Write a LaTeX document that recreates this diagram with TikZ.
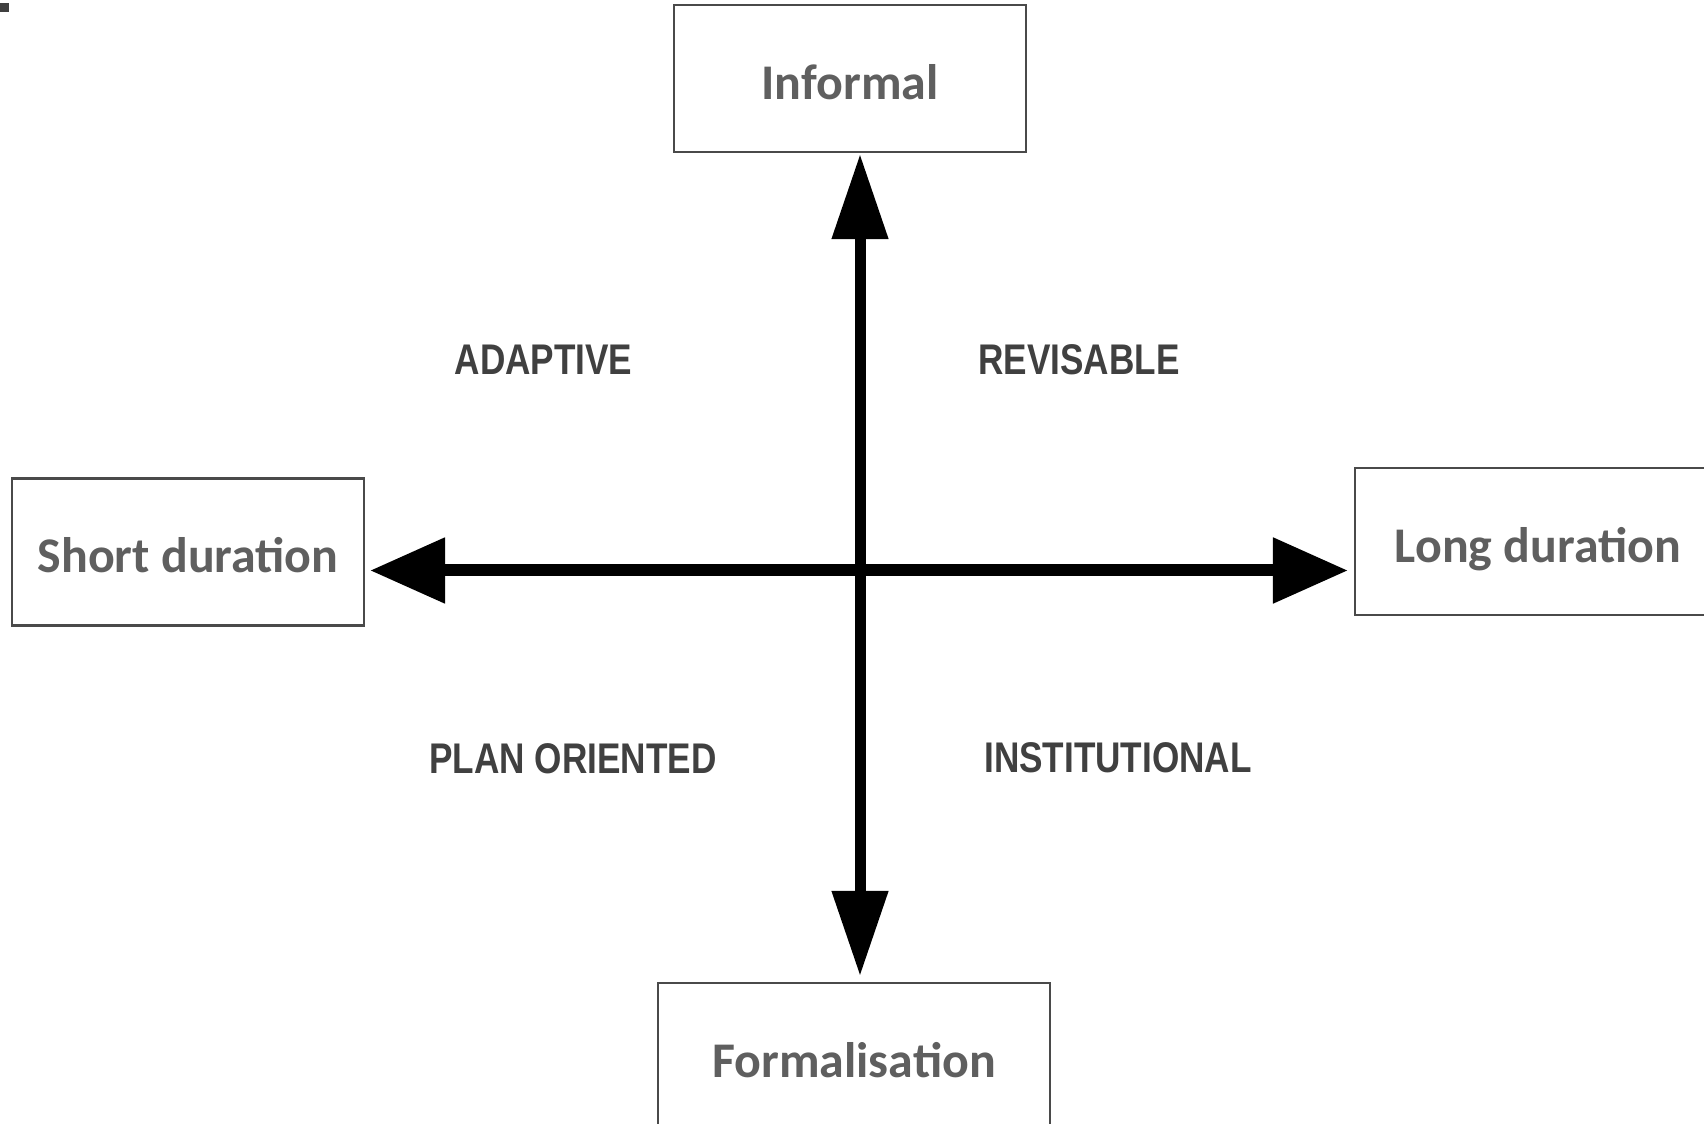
\documentclass[tikz,border=0pt]{standalone}
\usepackage{fontspec}
\usetikzlibrary{arrows.meta}
\newfontfamily\boxfont{Carlito}
\newfontfamily\quadfont{Liberation Sans}[FakeStretch=0.82]
\definecolor{boxtext}{HTML}{5F5F5F}
\definecolor{boxline}{HTML}{4A4A4A}
\definecolor{quadtext}{HTML}{404040}
\tikzset{
	pole/.style={draw=boxline, line width=0.6pt, fill=white, minimum width=3.52cm, minimum height=1.47cm, inner sep=0pt,
		text=boxtext, font=\boxfont\bfseries\fontsize{14.2}{16}\selectfont, text height=11.8pt, text depth=0pt},
	quad/.style={inner sep=0pt, text=quadtext, font=\quadfont\bfseries\fontsize{12.2}{14}\selectfont},
	vaxis/.style={line width=0.11cm, {Triangle[length=0.85cm,width=0.54cm]}-{Triangle[length=0.85cm,width=0.54cm]}},
	haxis/.style={line width=0.12cm, {Triangle[length=0.75cm,width=0.63cm]}-{Triangle[length=0.75cm,width=0.63cm]}}
}
\begin{document}
\begin{tikzpicture}
		\useasboundingbox (0,0) rectangle (17.04,-11.24);
		\clip (0,0) rectangle (17.04,-11.24);
		\fill[white] (0,0) rectangle (17.04,-11.24);
		\fill[quadtext] (0,-0.03) rectangle (0.09,-0.12);

		\node[pole] (inf) at (8.50,-0.785) {Informal};
		\node[pole, minimum width=3.92cm] (form) at (8.54,-10.565) {Formalisation};
		\node[pole] (short) at (1.88,-5.52) {Short duration};
		\node[pole, minimum width=3.66cm] (long) at (15.38,-5.415) {Long duration};
		\coordinate (o) at (8.60,-5.705);

		\draw[vaxis, shorten <=0.01cm, shorten >=0.06cm] (inf.south -| o) -- (form.north -| o);
		\draw[haxis, shorten <=0.05cm, shorten >=0.06cm] (short.east |- o) -- (long.west |- o);

		\node[quad] (adap) at (5.435,-3.595) {ADAPTIVE};
		\node[quad] (revi) at (10.79,-3.595) {REVISABLE};
		\node[quad] (plan) at (5.73,-7.585) {PLAN ORIENTED};
		\node[quad] (inst) at (11.18,-7.58) {INSTITUTIONAL};

	\end{tikzpicture}
\end{document}
